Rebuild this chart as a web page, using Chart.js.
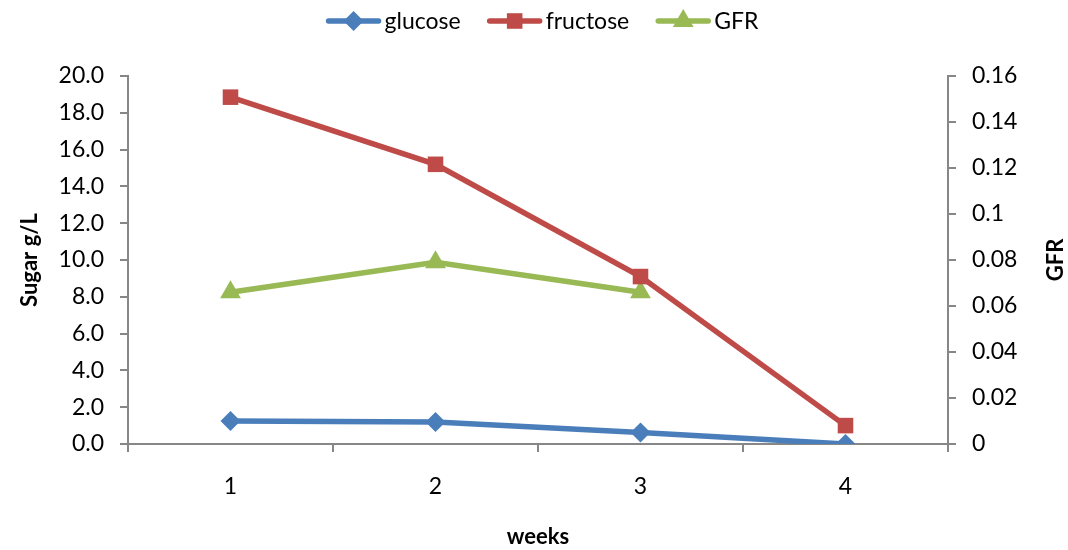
<!DOCTYPE html>
<html>
<head>
<meta charset="utf-8">
<script src="https://cdn.jsdelivr.net/npm/chart.js@4"></script>
<style>
  html, body { margin: 0; padding: 0; background: #fff; }
  #wrap { width: 1068px; height: 550px; }
</style>
</head>
<body>
<div id="wrap"><canvas id="c" width="1068" height="550"></canvas></div>
<script>
// Sugar content over weeks with GFR on the secondary axis
const weeks = ['1', '2', '3', '4'];
const glucose = [1.25, 1.2, 0.62, 0.0];
const fructose = [18.85, 15.2, 9.1, 1.0];
const gfr = [0.066, 0.079, 0.066, null];

const FONT = 'Lato, "Open Sans", sans-serif';
const AXIS_GREY = '#878787';

// Legend drawn as line + marker + label, centered above the plot
const lineLegend = {
  id: 'lineLegend',
  afterDraw(chart) {
    const ctx = chart.ctx;
    ctx.save();
    ctx.font = '23px ' + FONT;
    const lineLen = 56, gap = 3, spacing = 26;
    const items = chart.data.datasets.map(ds => ({
      ds, w: lineLen + gap + ctx.measureText(ds.label).width
    }));
    const total = items.reduce((s, it) => s + it.w, 0) + spacing * (items.length - 1);
    let x = chart.width / 2 + 8 - total / 2;
    const y = 21;
    items.forEach(it => {
      const ds = it.ds;
      ctx.strokeStyle = ds.borderColor;
      ctx.lineWidth = 5.5;
      ctx.lineCap = 'round';
      ctx.beginPath();
      ctx.moveTo(x + 3, y);
      ctx.lineTo(x + lineLen - 3, y);
      ctx.stroke();
      ctx.fillStyle = ds.pointBackgroundColor;
      Chart.helpers.drawPoint(ctx, {
        pointStyle: ds.pointStyle,
        radius: ds.pointRadius,
        borderWidth: 0
      }, x + lineLen / 2, y);
      ctx.fillStyle = '#000';
      ctx.textBaseline = 'middle';
      ctx.textAlign = 'left';
      ctx.fillText(ds.label, x + lineLen + gap, y + 1);
      x += it.w + spacing;
    });
    ctx.restore();
  }
};

// Secondary axis title, reading bottom-to-top like the primary one
const rightTitle = {
  id: 'rightTitle',
  afterDraw(chart) {
    const ctx = chart.ctx;
    const area = chart.chartArea;
    ctx.save();
    ctx.translate(1056, (area.top + area.bottom) / 2);
    ctx.rotate(-Math.PI / 2);
    ctx.font = 'bold 22px ' + FONT;
    ctx.fillStyle = '#000';
    ctx.textAlign = 'center';
    ctx.textBaseline = 'middle';
    ctx.fillText('GFR', 0, 0);
    ctx.restore();
  }
};

const ctx = document.getElementById('c').getContext('2d');
new Chart(ctx, {
  type: 'line',
  data: {
    labels: weeks,
    datasets: [
      {
        label: 'glucose', data: glucose, yAxisID: 'y',
        borderColor: '#4A7EBB', backgroundColor: '#4A7EBB',
        pointBackgroundColor: '#4A7EBB', pointBorderWidth: 0,
        borderWidth: 5.5, pointStyle: 'rectRot', pointRadius: 10, pointHoverRadius: 10,
        tension: 0
      },
      {
        label: 'fructose', data: fructose, yAxisID: 'y',
        borderColor: '#BE4B48', backgroundColor: '#BE4B48',
        pointBackgroundColor: '#BE4B48', pointBorderWidth: 0,
        borderWidth: 5.5, pointStyle: 'rect', pointRadius: 11, pointHoverRadius: 11,
        tension: 0
      },
      {
        label: 'GFR', data: gfr, yAxisID: 'y2',
        borderColor: '#98B954', backgroundColor: '#98B954',
        pointBackgroundColor: '#98B954', pointBorderWidth: 0,
        borderWidth: 5.5, pointStyle: 'triangle', pointRadius: 12, pointHoverRadius: 12,
        tension: 0, spanGaps: false
      }
    ]
  },
  options: {
    responsive: false,
    animation: false,
    devicePixelRatio: 1,
    layout: { padding: { top: 76, left: 0, right: 0, bottom: 0 } },
    plugins: {
      legend: { display: false },
      tooltip: { enabled: false }
    },
    scales: {
      x: {
        type: 'category',
        offset: true,
        grid: {
          offset: true, drawOnChartArea: false, drawTicks: true,
          tickLength: 8, color: AXIS_GREY, lineWidth: 2
        },
        border: { color: AXIS_GREY, width: 2 },
        ticks: { color: '#000', font: { family: FONT, size: 23 }, padding: 21 },
        title: {
          display: true, text: 'weeks', color: '#000',
          font: { family: FONT, size: 22, weight: 'bold' },
          padding: { top: 0, bottom: 0 }
        },
        afterFit(scale) { scale.height = 106; }
      },
      y: {
        position: 'left',
        min: 0, max: 20,
        ticks: {
          stepSize: 2, color: '#000', font: { family: FONT, size: 23 }, padding: 16,
          callback: v => Number(v).toFixed(1)
        },
        grid: {
          drawOnChartArea: false, drawTicks: true, tickLength: 8,
          color: AXIS_GREY, lineWidth: 2
        },
        border: { color: AXIS_GREY, width: 2 },
        title: {
          display: true, text: 'Sugar g/L', color: '#000',
          font: { family: FONT, size: 22, weight: 'bold' },
          padding: { top: 17, bottom: 0 }
        },
        afterFit(scale) { scale.width = 128; }
      },
      y2: {
        position: 'right',
        min: 0, max: 0.16,
        ticks: {
          stepSize: 0.02, color: '#000', font: { family: FONT, size: 23 }, padding: 16,
          callback: v => String(parseFloat(Number(v).toFixed(2)))
        },
        grid: {
          drawOnChartArea: false, drawTicks: true, tickLength: 8,
          color: AXIS_GREY, lineWidth: 2
        },
        border: { color: AXIS_GREY, width: 2 },
        title: { display: false },
        afterFit(scale) { scale.width = 120; }
      }
    }
  },
  plugins: [lineLegend, rightTitle]
});
</script>
</body>
</html>
